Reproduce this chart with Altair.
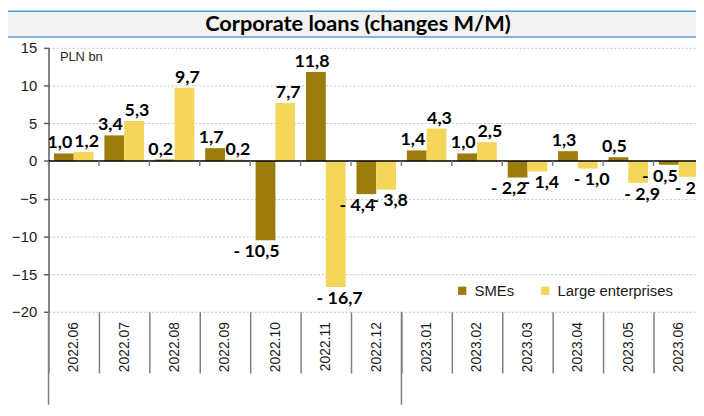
import altair as alt
import pandas as pd

months = ["2022.06", "2022.07", "2022.08", "2022.09", "2022.10", "2022.11", "2022.12",
          "2023.01", "2023.02", "2023.03", "2023.04", "2023.05", "2023.06"]
smes = [1.0, 3.4, 0.2, 1.7, -10.5, 11.8, -4.4, 1.4, 1.0, -2.2, 1.3, 0.5, -0.5]
large = [1.2, 5.3, 9.7, 0.2, 7.7, -16.7, -3.8, 4.3, 2.5, -1.4, -1.0, -2.9, -2.1]
series = ["SMEs", "Large enterprises"]
colors = ["#9C7D0B", "#F4D65B"]
y_ticks = [-20, -15, -10, -5, 0, 5, 10, 15]
year_starts = ["2022.06", "2023.01"]
title_text = "Corporate loans (changes M/M)"
unit_text = "PLN bn"

rows = []
for m, a, b in zip(months, smes, large):
    rows.append({"month": m, "series": series[0], "value": a})
    rows.append({"month": m, "series": series[1], "value": b})
df = pd.DataFrame(rows)

W, H = 655, 267
xscale = alt.Scale(domain=months, range=[0, 663], paddingInner=0, paddingOuter=0)
yscale = alt.Scale(domain=[-20, 15], nice=False, zero=False)
offscale = alt.Scale(domain=series, paddingInner=0, paddingOuter=0.275)

x_axis = alt.Axis(domain=False, grid=False, ticks=True, tickBand="extent", tickSize=62,
                  tickColor="#7f7f7f", tickWidth=1.5, labelAngle=270, labelAlign="right",
                  labelBaseline="middle", labelPadding=-52, labelFont="Liberation Sans",
                  labelFontSize=14, labelColor="#1a1a1a", labelOverlap=False, title=None)
y_axis = alt.Axis(values=y_ticks, labelOverlap=False, grid=True,
                  gridColor="#c4c4c4", gridDash=[2, 2], gridWidth=1,
                  domainColor="#595959", domainWidth=1.5, tickColor="#595959", tickSize=5,
                  tickWidth=1.5, labelFont="Liberation Sans", labelFontSize=15,
                  labelColor="#1a1a1a", labelPadding=7, title=unit_text, titleAngle=0,
                  titleX=11, titleY=9, titleAlign="left", titleBaseline="middle",
                  titleFont="Liberation Sans", titleFontSize=13, titleFontWeight="normal",
                  titleColor="#262626")
legend = alt.Legend(orient="none", legendX=411, legendY=238, direction="horizontal", title=None,
                    symbolType="square", symbolSize=70, symbolStrokeWidth=0,
                    labelFont="Liberation Sans", labelFontSize=15, labelColor="#1a1a1a",
                    columnPadding=23, labelOffset=5)


def xenc(**kw):
    return alt.X("month:N", scale=xscale, sort=months, axis=x_axis, **kw)


def yenc():
    return alt.Y("value:Q", scale=yscale, axis=y_axis)


def ydat(v):
    return alt.YDatum(v, scale=yscale, axis=y_axis)


base = alt.Chart(df)

bars = base.mark_bar().encode(
    x=xenc(),
    xOffset=alt.XOffset("series:N", scale=offscale, sort=series),
    y=yenc(),
    color=alt.Color("series:N", scale=alt.Scale(domain=series, range=colors), sort=series,
                    legend=legend),
)

lab = base.transform_calculate(
    label="(datum.value < 0 ? '- ' : '') + replace(format(abs(datum.value), '.1f'), '.', ',')"
)
text_style = dict(font="Lato", fontWeight="bold", fontSize=18, color="#000000")


def label_layer(flt, baseline, dx, dy):
    return lab.transform_filter(flt).mark_text(
        baseline=baseline, dx=dx, dy=dy, **text_style).encode(
        x=xenc(),
        xOffset=alt.XOffset("series:N", scale=offscale, sort=series),
        y=yenc(),
        text="label:N",
    )


sme_pos = label_layer("datum.series == 'SMEs' && datum.value >= 0", "bottom", -4, -1)
lar_pos = label_layer("datum.series != 'SMEs' && datum.value >= 0", "bottom", 3, -1)
sme_neg = label_layer("datum.series == 'SMEs' && datum.value < 0", "top", -9, 3)
lar_neg = label_layer("datum.series != 'SMEs' && datum.value < 0", "top", 4, 3)

one = alt.Data(values=[{}])
zero_line = alt.Chart(one).mark_rule(color="#000000", strokeWidth=1.5).encode(y=ydat(0))

month_df = pd.DataFrame({"month": months})
zero_ticks = alt.Chart(month_df).mark_rule(color="#7f7f7f", strokeWidth=1.5, y2Offset=5).encode(
    x=xenc(bandPosition=0),
    y=ydat(0), y2=alt.datum(0),
)
sep_df = pd.DataFrame({"month": year_starts})
separators = alt.Chart(sep_df).mark_rule(color="#7f7f7f", strokeWidth=1.5, y2Offset=94).encode(
    x=xenc(bandPosition=0),
    y=ydat(-20), y2=alt.datum(-20),
)

title_bg = alt.Chart(one).mark_rect(color="#F2F2F2").encode(
    x=alt.value(-41), x2=alt.value(W), y=alt.value(-37), y2=alt.value(-11))
title_top = alt.Chart(one).mark_rule(color="#5B9BD5", strokeWidth=1.5).encode(
    x=alt.value(-41), x2=alt.value(W), y=alt.value(-37))
title_bot = alt.Chart(one).mark_rule(color="#5B9BD5", strokeWidth=1.5).encode(
    x=alt.value(-41), x2=alt.value(W), y=alt.value(-11))
title_txt = alt.Chart(one).mark_text(font="Lato", fontWeight="bold", fontSize=22,
                                     align="center", baseline="middle", color="#000000").encode(
    x=alt.value(313), y=alt.value(-24), text=alt.value(title_text))

chart = alt.layer(
    bars, zero_line, zero_ticks, separators, sme_pos, lar_pos, sme_neg, lar_neg,
    title_bg, title_top, title_bot, title_txt,
).properties(
    width=W, height=H,
    autosize=alt.AutoSizeParams(type="none"),
    padding={"left": 41, "top": 38, "right": 0, "bottom": 94},
).configure_view(stroke=None)

chart.save("out.html", embed_options={"renderer": "svg", "actions": False})
